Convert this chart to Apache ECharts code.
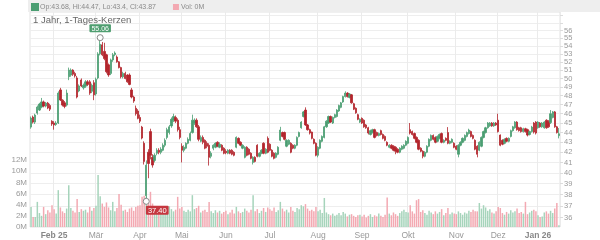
<!DOCTYPE html>
<html><head><meta charset="utf-8">
<script src="https://cdn.jsdelivr.net/npm/echarts@6/dist/echarts.min.js"></script>
<style>html,body{margin:0;padding:0;background:#fff}#c{width:600px;height:240px}</style>
</head><body><div id="c"></div>
<script>
const titleText = '1 Jahr, 1-Tages-Kerzen';
const priceName = 'Op:43.68, Hi:44.47, Lo:43.4, Cl:43.87';
const volumeName = 'Vol: 0M';
const monthNames = ['Jan','Feb','Mär','Apr','Mai','Jun','Jul','Aug','Sep','Okt','Nov','Dez'];
const priceTicks = [36,37,38,39,40,41,42,43,44,45,46,47,48,49,50,51,52,53,54,55,56,57,58];
const priceLabelsEven = [36,38,40,42,44,46,48,50,52,54,56];
const priceLabelsOdd = [37,39,41,43,45,47,49,51,53,55];

const dates = [
'2025-01-17','2025-01-20','2025-01-21','2025-01-22','2025-01-23','2025-01-24','2025-01-27','2025-01-28','2025-01-29','2025-01-30','2025-01-31',
'2025-02-03','2025-02-04','2025-02-05','2025-02-06','2025-02-07','2025-02-10','2025-02-11','2025-02-12','2025-02-13','2025-02-14','2025-02-17','2025-02-18','2025-02-19','2025-02-20','2025-02-21','2025-02-24','2025-02-25','2025-02-26','2025-02-27','2025-02-28',
'2025-03-03','2025-03-04','2025-03-05','2025-03-06','2025-03-07','2025-03-10','2025-03-11','2025-03-12','2025-03-13','2025-03-14','2025-03-17','2025-03-18','2025-03-19','2025-03-20','2025-03-21','2025-03-24','2025-03-25','2025-03-26','2025-03-27','2025-03-28','2025-03-31',
'2025-04-01','2025-04-02','2025-04-03','2025-04-04','2025-04-07','2025-04-08','2025-04-09','2025-04-10','2025-04-11','2025-04-14','2025-04-15','2025-04-16','2025-04-17','2025-04-22','2025-04-23','2025-04-24','2025-04-25','2025-04-28','2025-04-29','2025-04-30',
'2025-05-02','2025-05-05','2025-05-06','2025-05-07','2025-05-08','2025-05-09','2025-05-12','2025-05-13','2025-05-14','2025-05-15','2025-05-16','2025-05-19','2025-05-20','2025-05-21','2025-05-22','2025-05-23','2025-05-26','2025-05-27','2025-05-28','2025-05-29','2025-05-30',
'2025-06-02','2025-06-03','2025-06-04','2025-06-05','2025-06-06','2025-06-09','2025-06-10','2025-06-11','2025-06-12','2025-06-13','2025-06-16','2025-06-17','2025-06-18','2025-06-19','2025-06-20','2025-06-23','2025-06-24','2025-06-25','2025-06-26','2025-06-27','2025-06-30',
'2025-07-01','2025-07-02','2025-07-03','2025-07-04','2025-07-07','2025-07-08','2025-07-09','2025-07-10','2025-07-11','2025-07-14','2025-07-15','2025-07-16','2025-07-17','2025-07-18','2025-07-21','2025-07-22','2025-07-23','2025-07-24','2025-07-25','2025-07-28','2025-07-29','2025-07-30','2025-07-31',
'2025-08-01','2025-08-04','2025-08-05','2025-08-06','2025-08-07','2025-08-08','2025-08-11','2025-08-12','2025-08-13','2025-08-14','2025-08-15','2025-08-18','2025-08-19','2025-08-20','2025-08-21','2025-08-22','2025-08-25','2025-08-26','2025-08-27','2025-08-28','2025-08-29',
'2025-09-01','2025-09-02','2025-09-03','2025-09-04','2025-09-05','2025-09-08','2025-09-09','2025-09-10','2025-09-11','2025-09-12','2025-09-15','2025-09-16','2025-09-17','2025-09-18','2025-09-19','2025-09-22','2025-09-23','2025-09-24','2025-09-25','2025-09-26','2025-09-29','2025-09-30',
'2025-10-01','2025-10-02','2025-10-03','2025-10-06','2025-10-07','2025-10-08','2025-10-09','2025-10-10','2025-10-13','2025-10-14','2025-10-15','2025-10-16','2025-10-17','2025-10-20','2025-10-21','2025-10-22','2025-10-23','2025-10-24','2025-10-27','2025-10-28','2025-10-29','2025-10-30','2025-10-31',
'2025-11-03','2025-11-04','2025-11-05','2025-11-06','2025-11-07','2025-11-10','2025-11-11','2025-11-12','2025-11-13','2025-11-14','2025-11-17','2025-11-18','2025-11-19','2025-11-20','2025-11-21','2025-11-24','2025-11-25','2025-11-26','2025-11-27','2025-11-28',
'2025-12-01','2025-12-02','2025-12-03','2025-12-04','2025-12-05','2025-12-08','2025-12-09','2025-12-10','2025-12-11','2025-12-12','2025-12-15','2025-12-16','2025-12-17','2025-12-18','2025-12-19','2025-12-22','2025-12-23','2025-12-29','2025-12-30',
'2026-01-02','2026-01-05','2026-01-06','2026-01-07','2026-01-08','2026-01-09','2026-01-12','2026-01-13','2026-01-14','2026-01-15','2026-01-16'
];

// [open, close, low, high]
const ohlc = [
// Jan 2025
[44.57,45.53,44.40,45.70],[45.64,45.10,44.95,45.80],[45.10,45.86,44.90,46.00],[46.07,46.73,45.90,46.90],[46.40,47.06,46.30,47.20],[46.73,47.30,46.60,47.75],[47.30,46.84,46.70,47.45],[46.84,47.17,46.70,47.30],[47.17,46.62,46.50,47.30],[46.90,46.50,46.30,47.10],[45.20,44.90,44.70,45.30],
// Feb
[45.00,44.80,44.30,45.20],[44.85,45.00,44.70,45.20],[45.00,48.30,44.90,48.50],[48.66,47.51,47.40,48.90],[47.50,46.95,46.80,47.60],[47.20,46.80,46.60,47.40],[46.95,48.30,46.80,48.70],[50.20,51.00,49.80,51.30],[50.40,51.00,50.20,51.20],[51.00,50.50,50.30,51.10],
[50.60,50.30,50.10,50.80],[50.06,47.85,47.70,50.30],[48.55,49.12,48.40,49.30],[49.82,49.12,49.00,50.00],[48.90,49.20,48.70,49.40],[49.10,49.60,48.90,49.80],[49.60,49.30,49.10,49.80],[49.60,48.30,48.10,49.80],[48.50,49.20,48.30,49.40],[49.50,48.10,47.50,49.80],
// Mar
[48.20,49.90,48.00,50.10],[50.06,52.98,49.90,53.20],[53.00,54.20,52.80,55.06],[54.13,52.87,52.70,54.50],[53.30,52.40,52.20,54.40],[52.87,50.80,50.60,53.00],[51.63,50.42,50.20,51.80],[50.60,52.24,50.40,52.40],[52.24,52.87,52.00,53.10],[52.90,53.10,52.70,53.30],
[52.60,52.00,51.90,52.80],[52.00,51.30,51.20,52.10],[51.30,50.20,50.00,51.40],[50.20,50.60,50.00,50.80],[50.60,50.00,49.90,50.80],[50.40,49.60,49.50,50.50],[50.40,49.30,49.20,50.60],[48.66,47.85,47.70,48.90],[47.85,47.40,47.20,48.00],[46.60,46.00,45.80,46.90],[46.30,45.50,45.40,46.50],
// Apr
[45.60,45.20,45.00,45.90],[44.57,43.43,43.30,44.70],[42.90,41.10,40.80,43.10],[37.90,40.74,37.40,41.20],[42.00,40.90,39.50,42.30],[44.10,41.70,41.30,44.40],[41.50,40.75,40.50,41.80],[41.20,41.70,41.00,41.90],[41.90,42.20,41.70,42.40],[42.20,42.00,41.80,42.40],
[42.00,42.30,41.80,42.50],[42.20,42.70,42.10,42.90],[42.70,43.20,42.50,43.40],[43.50,44.30,43.30,44.50],[44.00,44.60,43.80,44.80],[44.70,45.40,44.50,45.60],[45.30,45.70,45.10,46.00],[45.60,45.20,45.00,45.80],[45.30,44.30,44.10,45.50],[44.30,43.50,43.30,44.60],
// May
[42.60,42.20,41.00,42.90],[42.20,42.50,42.00,42.70],[42.40,42.90,42.30,43.00],[42.90,43.30,42.80,43.50],[43.20,43.90,43.10,44.10],[44.00,45.30,43.90,45.90],[45.00,45.30,44.80,45.50],[45.30,44.60,44.50,45.50],[44.60,43.30,43.10,44.80],[43.10,43.50,43.00,43.70],
[43.50,43.00,42.80,43.70],[43.20,42.40,42.30,43.30],[42.90,42.60,42.40,43.10],[42.70,41.50,40.70,42.90],[41.60,41.90,41.40,42.10],[42.40,42.70,42.20,42.80],[42.50,42.90,42.40,43.00],[43.00,42.60,42.50,43.10],[42.50,42.80,42.40,43.00],[42.70,42.20,42.10,42.80],[42.40,41.90,41.80,42.50],
// Jun
[42.10,41.95,41.80,42.30],[41.90,42.20,41.80,42.30],[42.20,41.90,41.80,42.30],[42.20,41.80,41.70,42.30],[42.00,41.70,41.60,42.10],[42.50,43.50,42.40,43.60],[43.40,42.90,42.80,43.50],[43.00,42.70,42.60,43.10],[42.40,42.70,42.30,42.80],[41.50,42.50,41.40,42.60],
[42.50,41.70,41.60,42.60],[42.30,41.80,41.70,42.40],[41.90,41.40,41.30,42.00],[41.00,41.50,40.80,41.60],[41.50,41.10,41.00,41.60],[42.70,41.60,41.50,42.80],[41.60,41.90,41.50,42.00],[41.90,42.20,41.80,42.30],[42.90,41.90,41.80,43.00],[41.90,42.30,41.80,42.40],[43.40,42.00,41.90,43.60],
// Jul
[42.80,42.20,42.10,42.90],[42.20,41.60,41.50,42.30],[41.90,41.40,41.30,42.00],[41.50,41.90,41.40,42.00],[41.80,42.50,41.70,42.60],[43.20,44.26,43.10,44.60],[44.00,43.60,43.50,44.10],[44.00,43.30,43.20,44.10],[42.60,43.20,42.50,43.30],[42.80,43.20,42.70,43.30],
[42.90,42.00,41.90,43.00],[42.70,42.40,42.30,42.80],[42.40,42.70,42.30,42.80],[42.70,43.50,42.60,43.60],[43.60,44.00,43.50,44.10],[44.50,45.10,44.40,45.20],[45.70,46.20,45.60,46.30],[46.40,44.80,44.70,46.70],[44.80,44.30,44.20,44.90],[44.30,43.95,43.80,44.40],
[44.05,43.40,43.30,44.10],[43.30,42.90,42.80,43.40],[42.90,41.70,41.60,43.00],
// Aug
[41.70,42.50,41.50,42.60],[42.40,43.20,42.30,43.30],[43.10,43.60,43.00,43.70],[43.50,44.60,43.40,44.70],[44.60,45.20,44.50,45.30],[45.00,45.70,44.90,45.80],[45.70,45.10,45.00,45.80],[45.00,45.60,44.90,45.70],[45.60,45.90,45.50,46.00],[45.70,46.40,45.60,46.50],
[46.30,46.90,46.20,47.00],[46.70,47.20,46.60,47.30],[47.30,47.90,47.20,48.00],[47.90,48.30,47.80,48.50],[48.30,47.90,47.80,48.40],[47.80,48.20,47.70,48.30],[48.10,47.20,47.10,48.20],[47.10,46.50,46.40,47.20],[46.60,46.10,46.00,46.70],[45.90,45.40,45.30,46.00],[45.10,45.40,45.00,45.50],
// Sep
[45.50,45.00,44.90,45.60],[45.30,44.60,44.50,45.40],[44.80,44.50,44.40,44.90],[44.50,43.95,43.80,44.60],[43.80,44.20,43.70,44.30],[44.00,44.30,43.90,44.40],[44.30,43.50,43.40,44.40],[44.00,43.70,43.60,44.10],[43.70,43.90,43.60,44.00],[44.20,43.80,43.70,44.30],
[43.80,43.40,43.30,43.90],[43.60,43.20,43.10,43.70],[43.00,42.70,42.60,43.10],[42.50,42.70,42.40,42.80],[42.70,42.40,42.30,42.80],[42.60,42.20,42.10,42.70],[42.50,42.10,41.80,42.60],[42.30,42.00,41.90,42.40],[42.00,42.40,41.90,42.50],[42.30,42.60,42.20,42.70],
[42.40,42.70,42.30,42.80],[42.70,43.10,42.60,43.20],
// Oct
[42.90,43.50,42.80,43.60],[44.30,43.95,43.80,45.00],[44.10,43.80,43.70,44.20],[43.90,43.40,43.30,44.00],[43.50,43.00,42.90,43.60],[43.20,42.30,42.20,43.30],[42.40,42.10,42.00,42.50],[42.10,41.60,41.40,42.20],[41.60,42.00,41.50,42.10],[42.00,42.60,41.90,42.70],
[42.60,43.30,42.50,43.40],[43.20,43.70,43.10,43.80],[43.70,43.30,43.20,43.80],[43.50,43.00,42.90,43.60],[43.10,43.60,43.00,43.70],[43.40,43.80,43.30,43.90],[43.90,43.00,42.90,44.00],[43.00,43.20,42.90,43.30],[43.40,43.20,43.10,43.50],[44.00,42.90,42.80,44.57],
[42.90,43.10,42.80,43.20],[43.00,43.30,42.90,43.40],[42.90,42.50,42.40,43.00],
// Nov
[42.60,42.30,42.20,42.70],[41.80,42.70,41.50,42.80],[42.70,43.00,42.60,43.10],[43.00,43.40,42.90,43.50],[43.20,43.70,43.10,43.80],[43.60,44.00,43.50,44.10],[43.90,44.26,43.80,44.40],[44.10,43.60,43.50,44.20],[43.70,43.40,43.30,43.80],[43.20,42.30,42.20,43.30],
[42.60,41.80,41.50,42.70],[42.20,43.00,42.10,43.10],[42.60,43.50,42.50,43.60],[43.50,44.10,43.40,44.20],[44.00,44.50,43.90,44.60],[44.50,45.00,44.40,45.10],[44.70,45.00,44.60,45.10],[45.00,44.70,44.60,45.10],[44.70,45.00,44.60,45.10],[45.00,44.80,44.70,45.10],
// Dec
[45.30,44.10,44.00,46.00],[43.74,42.70,42.60,43.80],[43.20,42.80,42.70,43.30],[42.90,43.30,42.80,43.40],[43.40,43.10,43.00,43.50],[43.10,43.40,43.00,43.50],[43.60,44.20,43.50,44.30],[44.20,44.60,44.10,44.70],[44.50,45.10,44.40,45.20],[45.10,44.30,44.20,45.20],
[44.50,44.20,44.10,44.60],[44.50,44.10,44.00,44.60],[44.10,44.40,44.00,44.50],[44.40,44.10,44.00,44.50],[44.30,43.74,43.60,44.40],[43.80,44.10,43.70,44.20],[44.10,44.57,44.00,44.70],[45.00,44.05,43.90,45.10],[45.10,43.95,43.80,45.20],
// Jan 2026
[44.50,45.10,44.40,45.20],[45.00,44.60,44.50,45.10],[44.60,45.00,44.50,45.10],[44.50,45.10,44.40,45.20],[45.30,44.50,44.40,45.40],[45.20,44.60,44.50,45.30],[45.05,46.00,44.90,46.40],[45.60,46.20,45.50,46.30],[46.20,44.60,44.50,46.30],[44.60,44.00,43.90,44.70],[43.68,43.87,43.40,44.47]
];

// volume in millions
const volume = [
3.6,1.8,1.8,4.5,2.5,2.0,3.6,2.3,3.0,2.6,3.9,
3.2,2.4,6.6,3.5,2.8,2.5,3.3,7.5,3.4,2.9,2.6,5.0,2.7,3.2,2.9,3.1,2.6,3.6,2.9,3.4,
3.8,9.3,5.5,4.2,3.6,4.4,3.5,3.0,4.5,2.8,3.4,5.9,4.0,2.9,3.1,2.7,3.3,3.5,2.9,3.6,3.8,
3.9,5.4,5.6,5.4,4.9,6.3,4.2,3.5,3.1,2.8,2.6,3.0,3.4,2.9,3.7,3.2,2.8,3.1,5.4,3.3,
3.6,2.9,2.7,3.1,2.8,5.7,3.2,3.4,3.8,2.6,2.9,3.1,2.7,4.5,2.8,2.5,3.0,2.6,2.9,2.4,2.7,
2.9,2.3,2.6,3.1,2.4,3.6,2.8,2.5,2.7,3.3,2.9,2.6,3.1,5.7,2.8,3.2,2.5,2.9,3.4,2.7,3.5,
3.2,2.9,3.5,2.7,3.0,4.5,3.3,2.8,3.1,2.6,3.6,2.9,2.7,3.4,3.2,3.9,3.7,4.1,3.3,2.9,3.1,2.8,3.6,
2.8,3.1,2.5,5.2,2.6,2.3,2.1,2.4,2.0,2.2,2.5,2.1,2.7,2.4,1.9,2.2,2.3,2.0,1.8,2.1,2.2,
1.9,2.2,1.7,2.0,2.3,1.8,2.1,1.9,2.4,2.0,1.8,2.2,5.3,2.4,2.1,2.6,2.3,2.0,2.5,2.8,3.1,2.7,
2.6,3.9,2.8,2.4,4.8,5.0,2.7,3.0,2.5,2.2,2.9,2.6,2.3,2.8,2.4,2.7,3.2,2.1,2.5,3.4,2.3,2.6,2.4,
2.3,2.8,2.5,2.2,2.6,2.4,2.9,2.7,3.1,2.8,2.8,4.3,3.3,3.9,3.5,2.9,3.2,2.6,2.4,2.8,
3.6,3.4,2.5,2.2,2.7,2.4,3.0,2.6,2.8,3.3,2.5,2.7,2.4,4.5,2.3,2.6,2.9,3.1,2.8,
2.1,1.8,1.9,2.6,2.8,2.4,2.9,2.5,3.3,4.3,0.3
];

const UP = '#4b9e72', DOWN = '#b3242c';
const VOL_UP = '#a6d4bb', VOL_DOWN = '#f3a9b2';
const PRICE_MIN = 35.2, PRICE_MAX = 58.5;

function isMonthStart(i) {
  return i > 0 && dates[i].slice(5, 7) !== dates[i - 1].slice(5, 7);
}
const firstMonthIdx = dates.findIndex((d, i) => isMonthStart(i));

const priceLabelStyle = { fontSize: 7.5, color: '#9a9a9a', margin: 4, showMinLabel: true, showMaxLabel: true, hideOverlap: false };

const chart = echarts.init(document.getElementById('c'), null, { renderer: 'canvas' });
chart.setOption({
  animation: false,
  backgroundColor: '#fff',
  textStyle: { fontFamily: 'Liberation Sans, Arial, sans-serif' },
  graphic: [{ type: 'rect', left: 28, top: 0, z: 0, shape: { width: 572, height: 12 }, style: { fill: '#eeeeee' } }],
  title: { text: titleText, left: 33, top: 15, padding: 0, textStyle: { fontSize: 9.5, fontWeight: 'normal', color: '#666' } },
  legend: {
    left: 31, top: 3, padding: 0, itemWidth: 6, itemHeight: 6, itemGap: 17, icon: 'rect', selectedMode: false,
    textStyle: { fontSize: 7, color: '#8a8a8a', padding: [0, 0, 0, -3] },
    data: [priceName, volumeName]
  },
  grid: [
    { left: 30, right: 40, top: 12, bottom: 13, show: true, borderColor: '#e2e2e2', borderWidth: 1 },
    { left: 30, right: 40, top: 160, bottom: 13 }
  ],
  xAxis: [
    {
      type: 'category', data: dates, gridIndex: 0, boundaryGap: true,
      axisLine: { show: false }, axisTick: { show: false },
      axisLabel: {
        interval: (i) => isMonthStart(i), fontSize: 8.5, color: '#999', margin: 4,
        formatter: (v, i) => {
          const m = +v.slice(5, 7);
          const name = monthNames[m - 1];
          if (m === 1 || i === firstMonthIdx) return '{b|' + name + ' ' + v.slice(2, 4) + '}';
          return name;
        },
        rich: { b: { fontSize: 8.5, fontWeight: 'bold', color: '#888' } }
      },
      splitLine: { show: true, interval: (i) => isMonthStart(i), lineStyle: { color: '#ebebeb', width: 1 } }
    },
    { type: 'category', data: dates, gridIndex: 1, boundaryGap: true, show: false }
  ],
  yAxis: [
    {
      type: 'log', logBase: 10, gridIndex: 0, position: 'right', min: PRICE_MIN, max: PRICE_MAX,
      axisLine: { show: false },
      axisTick: { show: true, length: 3, customValues: priceTicks, lineStyle: { color: '#dcdcdc' } },
      axisLabel: Object.assign({ customValues: priceLabelsEven }, priceLabelStyle),
      splitLine: { show: true, lineStyle: { color: '#eeeeee', width: 1 } }
    },
    {
      type: 'value', gridIndex: 1, position: 'left', min: 0, max: 12, interval: 2,
      axisLine: { show: false }, axisTick: { show: false },
      axisLabel: { formatter: (v) => v + 'M', fontSize: 8, color: '#9a9a9a', margin: 3,
        showMinLabel: true, showMaxLabel: true },
      splitLine: { show: false }
    },
    {
      type: 'log', logBase: 10, gridIndex: 0, position: 'right', offset: 0, min: PRICE_MIN, max: PRICE_MAX,
      axisLine: { show: false }, axisTick: { show: false }, splitLine: { show: false },
      axisLabel: Object.assign({ customValues: priceLabelsOdd }, priceLabelStyle)
    }
  ],
  series: [
    {
      type: 'bar', name: volumeName, xAxisIndex: 1, yAxisIndex: 1, barWidth: 1.5, z: 1,
      itemStyle: { color: VOL_DOWN },
      data: volume.map((v, i) => ({ value: v, itemStyle: { color: ohlc[i][1] >= ohlc[i][0] ? VOL_UP : VOL_DOWN } }))
    },
    {
      type: 'candlestick', name: priceName, xAxisIndex: 0, yAxisIndex: 0, barWidth: 1.8, z: 3,
      itemStyle: { color: UP, color0: DOWN, borderColor: UP, borderColor0: DOWN, borderWidth: 0.8 },
      data: ohlc,
      markPoint: {
        symbol: 'circle', symbolSize: 6,
        itemStyle: { color: '#fff', borderColor: '#888', borderWidth: 1 },
        data: [
          { type: 'max', valueDim: 'highest',
            label: { show: true, position: 'top', distance: 2, formatter: (p) => Number(p.value).toFixed(2),
              backgroundColor: '#4f9e70', color: '#fff', fontSize: 7, padding: [1, 2, 0, 2], borderRadius: 1 } },
          { type: 'min', valueDim: 'lowest',
            label: { show: true, position: 'bottom', distance: 1, offset: [11, 0], formatter: (p) => Number(p.value).toFixed(2),
              backgroundColor: '#c5373f', color: '#fff', fontSize: 7.5, padding: [1, 2, 0, 2], borderRadius: 1 } }
        ]
      }
    }
  ]
});
</script>
</body></html>
